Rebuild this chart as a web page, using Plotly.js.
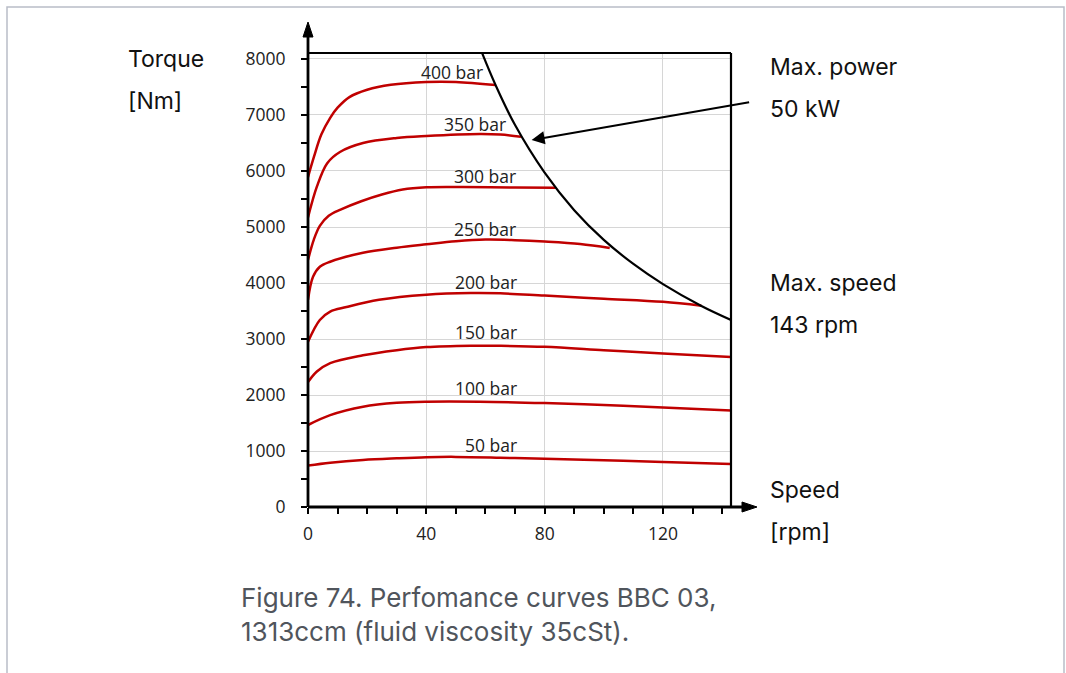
<!DOCTYPE html>
<html>
<head>
<meta charset="utf-8">
<script src="https://cdn.plot.ly/plotly-3.0.1.min.js"></script>
<style>
html,body{margin:0;padding:0;background:#fff;}
#chart{width:1066px;height:673px;}
</style>
</head>
<body>
<div id="chart"></div>
<script>
// Pressure curves: speed [rpm] and torque [Nm]
const speed400 = [0, 2, 4.5, 7.5, 10, 14, 20, 28, 40, 50, 63.4];
const torque400 = [5890, 6250, 6650, 6950, 7130, 7320, 7450, 7540, 7590, 7590, 7536];
const speed350 = [0, 3, 6.5, 10.8, 18.6, 30, 40, 58, 65, 72];
const torque350 = [5170, 5720, 6140, 6340, 6500, 6590, 6625, 6660, 6650, 6610];
const speed300 = [0, 2, 4, 7, 11, 18, 25, 32, 40, 52, 70, 83.7];
const torque300 = [4410, 4780, 5020, 5200, 5310, 5460, 5580, 5670, 5710, 5715, 5705, 5700];
const speed250 = [0, 1.7, 4, 7.5, 18.6, 30, 40, 50, 60, 70, 80, 92, 102];
const torque250 = [3700, 4110, 4290, 4380, 4540, 4630, 4690, 4745, 4775, 4765, 4740, 4695, 4625];
const speed200 = [0, 4, 7.5, 13, 24, 40, 55, 65, 80, 100, 120, 133];
const torque200 = [2950, 3340, 3490, 3570, 3700, 3790, 3820, 3815, 3775, 3720, 3665, 3595];
const speed150 = [0, 3, 7.5, 18.6, 30, 40, 55, 65, 80, 100, 120, 143];
const torque150 = [2230, 2420, 2570, 2710, 2800, 2855, 2880, 2878, 2860, 2800, 2740, 2680];
const speed100 = [0, 7.5, 18.6, 30, 40, 58, 80, 100, 120, 143];
const torque100 = [1464, 1640, 1790, 1860, 1880, 1880, 1855, 1820, 1775, 1725];
const speed50 = [0, 7.5, 18.6, 30, 40, 50, 65, 80, 100, 120, 143];
const torque50 = [740, 790, 840, 870, 890, 895, 880, 860, 835, 805, 770];
// Max power limit curve
const speedPower = [58.9, 63.4, 70, 80, 90, 100, 110, 120, 133, 143];
const torquePower = [8100, 7536, 6820, 5970, 5300, 4770, 4340, 3980, 3590, 3340];

const curveLabels = ["400 bar", "350 bar", "300 bar", "250 bar", "200 bar", "150 bar", "100 bar", "50 bar"];
const labelSpeed = [48.8, 56.6, 59.7, 60, 60.3, 60.3, 60.3, 61.7];
const labelTorque = [7768, 6840, 5910, 4960, 4020, 3125, 2125, 1107];

const xTickVals = [0, 40, 80, 120];
const yTickVals = [0, 1000, 2000, 3000, 4000, 5000, 6000, 7000, 8000];

const series = [
  [speed400, torque400], [speed350, torque350], [speed300, torque300], [speed250, torque250],
  [speed200, torque200], [speed150, torque150], [speed100, torque100], [speed50, torque50]
];

const RED = '#c00000';
const traces = series.map(s => ({
  x: s[0], y: s[1], type: 'scatter', mode: 'lines',
  line: {color: RED, width: 2.5, shape: 'spline', smoothing: 1},
  hoverinfo: 'skip', showlegend: false
}));
traces.push({
  x: speedPower, y: torquePower, type: 'scatter', mode: 'lines',
  line: {color: '#000', width: 2.2, shape: 'spline', smoothing: 1},
  hoverinfo: 'skip', showlegend: false
});

const tickFont = {family: 'Open Sans, sans-serif', size: 17.5, color: '#222'};
const labelFont = {family: 'Open Sans, sans-serif', size: 17.5, color: '#222'};
const sideFont = {family: 'Inter, sans-serif', size: 23, color: '#111'};

const annotations = curveLabels.map((t, i) => ({
  x: labelSpeed[i], y: labelTorque[i], xref: 'x', yref: 'y', text: t,
  showarrow: false, font: labelFont, xanchor: 'center', yanchor: 'middle'
}));

function sideText(text, px, py, anchor) {
  return {x: (px - 3 - 308) / 423, y: (507 - py) / 454, xref: 'paper', yref: 'paper',
    text: text, showarrow: false, font: sideFont, xanchor: anchor || 'left', yanchor: 'middle'};
}
annotations.push(sideText('Torque', 129, 59));
annotations.push(sideText('[Nm]', 129, 101));
annotations.push(sideText('Max. power', 771, 67));
annotations.push(sideText('50 kW', 771, 109));
annotations.push(sideText('Max. speed', 771, 283));
annotations.push(sideText('143 rpm', 771, 325));
annotations.push(sideText('Speed', 771, 490));
annotations.push(sideText('[rpm]', 771, 532));

const capFont = {family: 'Inter, sans-serif', size: 26, color: '#50555c'};
annotations.push({x: (239 - 308) / 423, y: (507 - 597) / 454, xref: 'paper', yref: 'paper',
  text: 'Figure 74. Perfomance curves BBC 03,', showarrow: false, font: capFont,
  xanchor: 'left', yanchor: 'middle'});
annotations.push({x: (239 - 308) / 423, y: (507 - 631) / 454, xref: 'paper', yref: 'paper',
  text: '1313ccm (fluid viscosity 35cSt).', showarrow: false, font: capFont,
  xanchor: 'left', yanchor: 'middle'});

// arrow pointing to the max power curve
annotations.push({x: 75.6, y: 6554, xref: 'x', yref: 'y', ax: 219, ay: -38, axref: 'pixel', ayref: 'pixel',
  text: '', showarrow: true, arrowhead: 2, arrowsize: 1.3, arrowwidth: 2, arrowcolor: '#000'});

const px = v => (v - 308) / 423;
const py = v => (507 - v) / 454;

const shapes = [
  // outer frame
  {type: 'rect', xref: 'paper', yref: 'paper', x0: px(7), x1: px(1064), y0: py(7), y1: py(700),
   line: {color: '#b9bdc7', width: 1.5}, layer: 'below'},
  // y axis with arrow
  {type: 'line', xref: 'paper', yref: 'paper', x0: 0, x1: 0, y0: 0, y1: py(34), line: {color: '#000', width: 2.8}},
  {type: 'path', xref: 'paper', yref: 'paper',
   path: `M ${px(303)} ${py(37)} L ${px(308)} ${py(22)} L ${px(313)} ${py(37)} Z`, fillcolor: '#000', line: {color: '#000', width: 1}},
  // x axis with arrow
  {type: 'line', xref: 'paper', yref: 'paper', x0: 0, x1: px(745), y0: 0, y1: 0, line: {color: '#000', width: 2.8}},
  {type: 'path', xref: 'paper', yref: 'paper',
   path: `M ${px(742)} ${py(502)} L ${px(757)} ${py(507)} L ${px(742)} ${py(512)} Z`, fillcolor: '#000', line: {color: '#000', width: 1}},
  // top and right border
  {type: 'line', xref: 'paper', yref: 'paper', x0: 0, x1: 1, y0: 1, y1: 1, line: {color: '#000', width: 2.2}},
  {type: 'line', xref: 'paper', yref: 'paper', x0: 1, x1: 1, y0: 0, y1: 1, line: {color: '#000', width: 2.2}}
];

const layout = {
  width: 1066, height: 673,
  margin: {l: 308, r: 335, t: 53, b: 166},
  paper_bgcolor: '#fff', plot_bgcolor: '#fff',
  showlegend: false,
  xaxis: {
    range: [0, 143], showline: false, zeroline: false,
    tickvals: xTickVals, ticktext: xTickVals.map(String),
    ticks: 'outside', ticklen: 6, tickwidth: 2, tickcolor: '#000',
    showgrid: true, gridcolor: '#d6d6d6', gridwidth: 1,
    tickfont: tickFont, ticklabelstandoff: 5,
    minor: {dtick: 10, tick0: 0, ticks: 'outside', ticklen: 6, tickwidth: 2, tickcolor: '#000', showgrid: false},
    fixedrange: true
  },
  yaxis: {
    range: [0, 8107], showline: false, zeroline: false,
    tickvals: yTickVals, ticktext: yTickVals.map(String),
    ticks: 'outside', ticklen: 6, tickwidth: 2, tickcolor: '#000',
    showgrid: true, gridcolor: '#d6d6d6', gridwidth: 1,
    tickfont: tickFont, ticklabelstandoff: 12,
    minor: {dtick: 500, tick0: 0, ticks: 'outside', ticklen: 6, tickwidth: 2, tickcolor: '#000', showgrid: false},
    fixedrange: true
  },
  annotations: annotations,
  shapes: shapes
};

Plotly.newPlot('chart', traces, layout, {staticPlot: true, displayModeBar: false});
</script>
</body>
</html>
